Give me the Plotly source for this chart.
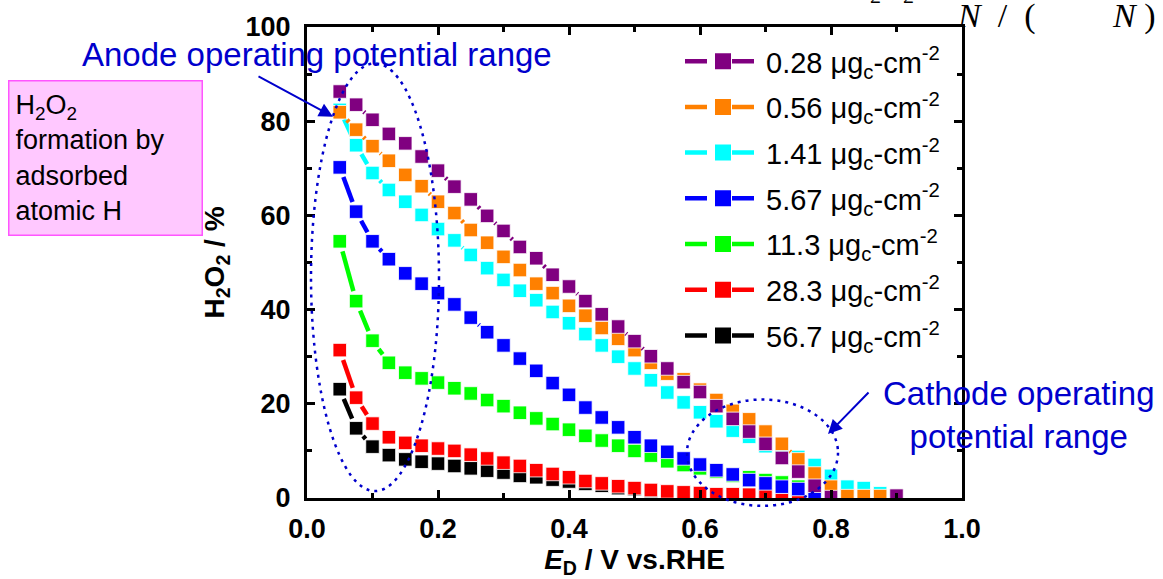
import math
import plotly.graph_objects as go

# ---- data ----
potential = [0.05, 0.075, 0.1, 0.125, 0.15, 0.175, 0.2, 0.225, 0.25, 0.275,
             0.3, 0.325, 0.35, 0.375, 0.4, 0.425, 0.45, 0.475, 0.5, 0.525,
             0.55, 0.575, 0.6, 0.625, 0.65, 0.675, 0.7, 0.725, 0.75, 0.775,
             0.8, 0.825, 0.85, 0.875, 0.9]

h2o2_028 = [86.3, 83.5, 80.3, 77.3, 75.3, 72.5, 69.5, 66.1, 63.4, 59.9,
            56.7, 53.3, 50.9, 47.4, 44.9, 41.8, 39.0, 36.4, 33.3, 30.1,
            27.5, 24.6, 22.5, 19.5, 16.8, 14.1, 11.5, 8.5, 5.6, 2.6,
            0.2, None, None, None, 0.5]
h2o2_056 = [81.9, 78.2, 74.7, 71.6, 68.6, 66.2, 62.9, 60.5, 56.9, 54.2,
            51.2, 48.4, 45.5, 43.5, 40.8, 38.7, 36.1, 33.8, 31.4, 28.7,
            26.4, 25.2, 23.0, 20.8, 18.5, 16.7, 14.1, 11.5, 8.2, 5.2,
            2.4, 0.4, 0.4, 0.4, None]
h2o2_141 = [82.4, 74.9, 69.0, 65.4, 62.9, 60.1, 57.1, 54.7, 51.6, 48.8,
            46.3, 44.0, 42.0, 39.5, 37.1, 34.8, 32.4, 30.0, 27.5, 25.0,
            22.4, 20.3, 18.2, 16.3, 14.3, 13.0, 11.0, 9.8, 8.7, 7.0,
            4.7, 2.4, 2.1, 1.0, None]
h2o2_567 = [70.2, 60.8, 54.5, 50.7, 47.7, 45.5, 43.5, 41.1, 38.3, 35.2,
            32.4, 29.6, 27.0, 24.4, 21.9, 19.2, 17.1, 15.0, 12.9, 11.1,
            9.8, 8.4, 7.1, 5.9, 5.0, 3.8, 3.1, 2.4, 1.9, 0.2,
            -0.3, None, None, None, None]
h2o2_113 = [54.5, 41.8, 33.4, 28.7, 26.6, 25.4, 24.5, 23.3, 22.2, 20.8,
            19.5, 18.1, 16.9, 15.7, 14.5, 13.2, 12.2, 11.1, 10.0, 9.0,
            7.8, 7.0, 6.3, 5.6, 4.7, 4.4, 3.8, 3.3, 2.4, None,
            None, None, None, None, None]
h2o2_283 = [31.4, 21.3, 15.8, 12.9, 11.7, 11.1, 10.5, 10.0, 9.2, 8.4,
            7.5, 6.8, 5.9, 5.1, 4.4, 3.6, 3.1, 2.5, 2.1, 1.7,
            1.4, 1.2, 1.05, 0.8, 0.8, 0.7, 0.55, -0.4, -0.9, -1.6,
            None, None, None, None, None]
h2o2_567b = [23.1, 14.8, 10.9, 9.1, 8.2, 7.7, 7.3, 6.8, 6.3, 5.8,
             5.4, 4.7, 4.4, 3.9, 3.5, 3.0, 2.6, 2.1, 1.9, 1.5,
             1.2, 0.9, 0.7, 0.5, 0.3, 0.1, -0.2, None, None, None,
             None, None, None, None, None]

series_labels = ["0.28", "0.56", "1.41", "5.67", "11.3", "28.3", "56.7"]
series_values = [h2o2_028, h2o2_056, h2o2_141, h2o2_567, h2o2_113, h2o2_283, h2o2_567b]
series_colors = ["#800080", "#FF8000", "#00FFFF", "#0000FF", "#00FF00", "#FF0000", "#000000"]

x_ticks = [0.0, 0.2, 0.4, 0.6, 0.8, 1.0]
y_ticks = [0, 20, 40, 60, 80, 100]

BLUE = "#0000CC"
FONT = "Liberation Sans"

# plot area in pixels: x 307..962, y 22..500
PLOT_W, PLOT_H = 655.0, 478.0
X_RANGE, Y_RANGE = (0.0, 1.0), (0.0, 100.0)
SX = PLOT_W / (X_RANGE[1] - X_RANGE[0])   # px per volt
SY = PLOT_H / (Y_RANGE[1] - Y_RANGE[0])   # px per percent
GAP = 10.5                                 # line gap to symbol (px from centre)


def gapped_segments(xs, ys):
    """Connecting line with a gap to each symbol (Origin style)."""
    lx, ly = [], []
    for i in range(len(xs) - 1):
        x1, y1, x2, y2 = xs[i], ys[i], xs[i + 1], ys[i + 1]
        if y1 is None or y2 is None:
            continue
        L = math.hypot((x2 - x1) * SX, (y2 - y1) * SY)
        if L <= 2 * GAP + 1:
            continue
        f = GAP / L
        lx += [x1 + (x2 - x1) * f, x2 - (x2 - x1) * f, None]
        ly += [y1 + (y2 - y1) * f, y2 - (y2 - y1) * f, None]
    return lx, ly


fig = go.Figure()
# highest loading drawn first so that the lowest loading ends on top
for lab, vals, col in reversed(list(zip(series_labels, series_values, series_colors))):
    lx, ly = gapped_segments(potential, vals)
    fig.add_trace(go.Scatter(
        x=lx, y=ly, mode="lines", showlegend=False, hoverinfo="skip",
        line=dict(color=col, width=4.5), connectgaps=False,
    ))
    fig.add_trace(go.Scatter(
        x=potential, y=vals, mode="markers", showlegend=False,
        name=f"{lab} μg<sub>c</sub>-cm<sup>-2</sup>",
        marker=dict(symbol="square", size=13.5, color=col,
                    line=dict(width=1, color="rgba(255,255,255,0.8)")),
    ))

# legend entries (line - symbol - line)
for lab, col in zip(series_labels, series_colors):
    fig.add_trace(go.Scatter(
        x=[None], y=[None], mode="lines+markers",
        name=f"{lab} μg<sub>c</sub>-cm<sup>-2</sup>",
        legendgroup=lab, showlegend=True,
        line=dict(color=col, width=4.5, dash="22px,25px"),
        marker=dict(symbol="square", size=16, color=col, line=dict(width=0)),
    ))

axis_common = dict(
    showline=True, linewidth=3, linecolor="black", mirror="allticks",
    ticks="inside", ticklen=8, tickwidth=3, tickcolor="black",
    showgrid=False, zeroline=False,
    tickfont=dict(family=FONT, size=27, color="black", weight="bold"),
)

fig.update_xaxes(
    range=list(X_RANGE), tickvals=x_ticks, tickformat=".1f",
    minor=dict(ticks="inside", ticklen=5, tickwidth=3, dtick=0.1, tickcolor="black"),
    title=dict(text="<i>E</i><sub>D</sub> / V vs.RHE", standoff=3,
               font=dict(family=FONT, size=28, color="black", weight="bold")),
    ticklabelstandoff=5,
    **axis_common,
)
fig.update_yaxes(
    range=list(Y_RANGE), tickvals=y_ticks,
    minor=dict(ticks="inside", ticklen=5, tickwidth=3, dtick=10, tickcolor="black"),
    title=dict(text="H<sub>2</sub>O<sub>2</sub> / %", standoff=13,
               font=dict(family=FONT, size=28, color="black", weight="bold")),
    ticklabelstandoff=8,
    **axis_common,
)


def px(xp):
    return (xp - 307) / PLOT_W


def py(yp):
    return (500 - yp) / PLOT_H


shapes = [
    dict(type="circle", xref="paper", yref="paper",
         x0=px(311), x1=px(439), y0=py(493), y1=py(59),
         line=dict(color=BLUE, width=2.5, dash="3px,5px")),
    dict(type="circle", xref="paper", yref="paper",
         x0=px(687), x1=px(838), y0=py(508), y1=py(400),
         line=dict(color=BLUE, width=2.5, dash="3px,5px")),
]

annotations = [
    dict(text="Anode operating potential range", xref="paper", yref="paper",
         x=px(80), y=py(50), xanchor="left", yanchor="middle", showarrow=False,
         font=dict(family=FONT, size=33, color=BLUE)),
    dict(text="", xref="paper", yref="paper", x=px(333), y=py(113),
         ax=-76, ay=-41, showarrow=True, arrowhead=2, arrowsize=1.4,
         arrowwidth=2, arrowcolor=BLUE),
    dict(text="Cathode operating<br>potential range", xref="paper", yref="paper",
         x=px(1019), y=py(416), xanchor="center", yanchor="middle", align="center",
         showarrow=False, font=dict(family=FONT, size=33, color=BLUE)),
    dict(text="", xref="paper", yref="paper", x=px(828), y=py(435),
         ax=42, ay=-43, showarrow=True, arrowhead=2, arrowsize=1.4,
         arrowwidth=2, arrowcolor=BLUE),
    dict(text="H<sub>2</sub>O<sub>2</sub><br>formation by<br>adsorbed<br>atomic H",
         xref="paper", yref="paper", x=px(8), y=py(76), xanchor="left", yanchor="top",
         align="left", valign="middle", showarrow=False, width=180, height=141,
         bgcolor="#FFC8FF", bordercolor="#FF55FF", borderwidth=1.5, borderpad=6,
         font=dict(family=FONT, size=27, color="black")),
    # clipped fragment of an equation at the top of the page
    dict(text="<i>N</i>  /  (", xref="paper", yref="paper", x=px(955), y=py(32),
         xanchor="left", yanchor="bottom", showarrow=False,
         font=dict(family="Liberation Serif", size=34, color="black")),
    dict(text="<i>N</i> )", xref="paper", yref="paper", x=px(1110), y=py(32),
         xanchor="left", yanchor="bottom", showarrow=False,
         font=dict(family="Liberation Serif", size=34, color="black")),
    dict(text="2    2", xref="paper", yref="paper", x=px(868), y=py(5),
         xanchor="left", yanchor="bottom", showarrow=False,
         font=dict(family="Liberation Serif", size=22, color="black")),
]

fig.update_layout(
    width=1163, height=579,
    margin=dict(l=307, r=201, t=22, b=79),
    paper_bgcolor="white", plot_bgcolor="white",
    showlegend=True,
    legend=dict(x=px(680), y=py(31), xanchor="left", yanchor="top",
                bgcolor="rgba(0,0,0,0)", borderwidth=0,
                traceorder="grouped", tracegroupgap=5,
                itemwidth=76, itemsizing="trace",
                font=dict(family=FONT, size=29, color="black")),
    shapes=shapes, annotations=annotations,
)

fig.write_html("out.html")
